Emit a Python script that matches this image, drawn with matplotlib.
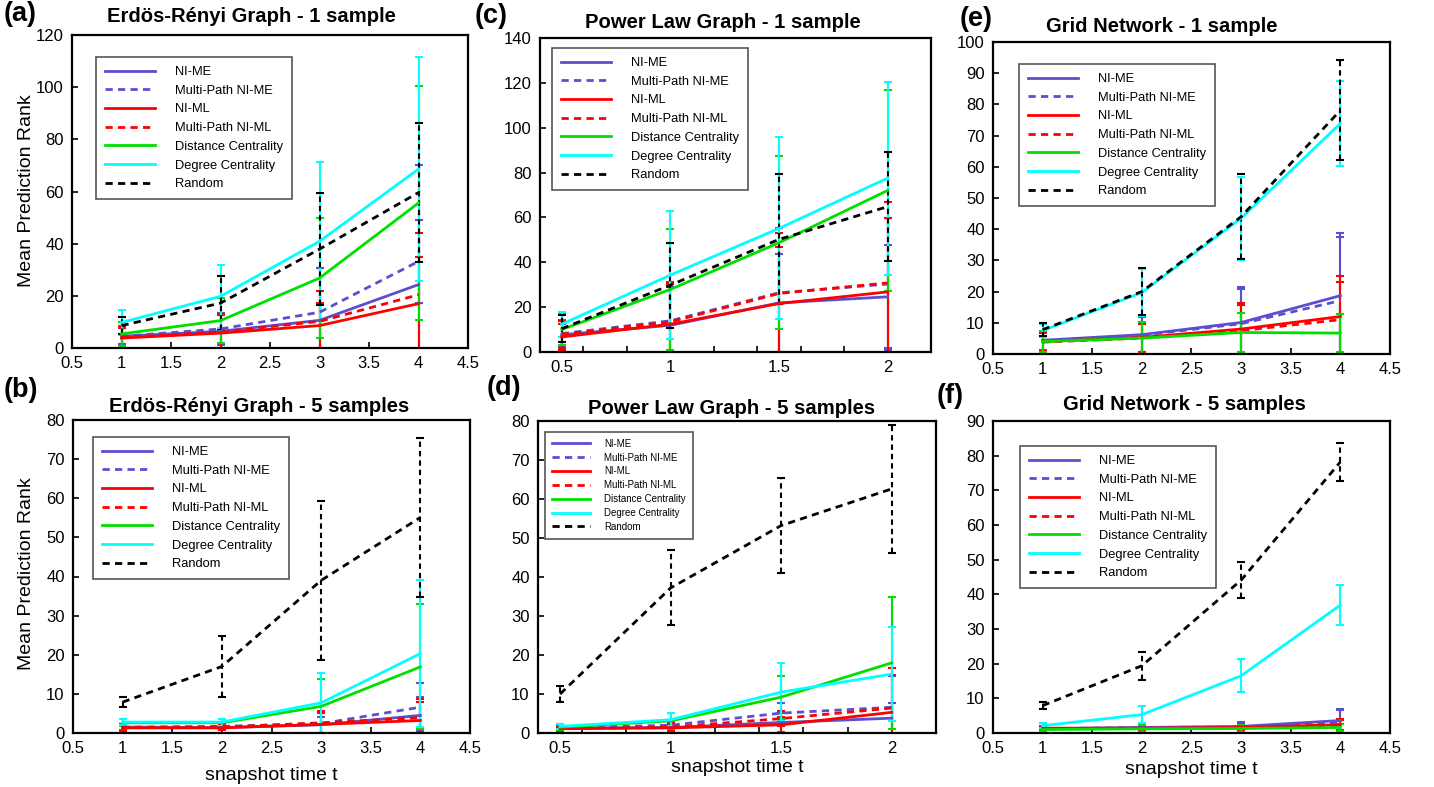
import numpy as np
import matplotlib.pyplot as plt
from matplotlib.ticker import FormatStrFormatter

plt.rcParams['font.family'] = ['Liberation Sans', 'DejaVu Sans']

names = ['NI-ME', 'Multi-Path NI-ME', 'NI-ML', 'Multi-Path NI-ML',
         'Distance Centrality', 'Degree Centrality', 'Random']
colors = ['#5b4fd0', '#5b4fd0', '#ff0000', '#ff0000', '#00e000', '#00ffff', '#000000']
styles = ['-', '--', '-', '--', '-', '-', '--']

t_er = [1, 2, 3, 4]
t_pl = [0.5, 1, 1.5, 2]
t_grid = [1, 2, 3, 4]

# (a) Erdos-Renyi, 1 sample  (rows in order of names)
er1_mean = [[4.5, 6.4, 10.6, 24.3],
            [4.5, 7.3, 13.7, 33.2],
            [3.8, 5.7, 8.6, 17.0],
            [4.1, 6.1, 10.2, 20.4],
            [5.4, 10.5, 26.8, 55.6],
            [9.8, 19.8, 40.9, 68.6],
            [8.6, 17.2, 37.9, 59.6]]
er1_err = [[4, 7, 20, 46],
           [3, 6, 17, 16],
           [4, 7, 8.6, 18],
           [4, 7, 11.5, 23.6],
           [4.5, 8.5, 23, 45],
           [4.9, 12, 30.4, 43],
           [3.1, 10.3, 21.5, 26.6]]

# (b) Erdos-Renyi, 5 samples
er5_mean = [[1.5, 1.4, 2.1, 4.5],
            [1.5, 1.7, 2.4, 6.6],
            [1.3, 1.3, 2.2, 3.2],
            [1.4, 1.5, 2.6, 3.9],
            [2.6, 2.6, 6.8, 16.9],
            [2.8, 2.8, 7.7, 20.3],
            [7.9, 17.0, 39.0, 55.1]]
er5_err = [[0.8, 0.6, 2, 4.7],
           [0.8, 0.6, 3, 6.2],
           [0.8, 0.6, 3, 4.7],
           [0.8, 0.6, 3, 4.9],
           [0.9, 1.0, 7.1, 16],
           [0.8, 0.9, 7.6, 18.7],
           [1.3, 7.7, 20.3, 20.4]]

# (c) power law, 1 sample
pl1_mean = [[7.7, 11.9, 21.9, 24.6],
            [8.2, 13.9, 26.4, 30.3],
            [6.7, 12.4, 21.6, 26.8],
            [7.9, 13.4, 26.1, 30.8],
            [10.0, 27.9, 48.7, 72.0],
            [12.4, 34.3, 55.1, 77.5],
            [10.4, 29.8, 50.2, 64.8]]
pl1_err = [[6, 17, 22, 23],
           [6, 17, 29, 29.4],
           [6, 18, 25, 33],
           [6, 18, 27, 36],
           [7, 27, 38.5, 45],
           [5.5, 28.7, 40.6, 43],
           [6, 19, 29, 24.3]]

# (d) power law, 5 samples
pl5_mean = [[1.3, 1.4, 2.7, 3.8],
            [1.3, 2.0, 5.1, 6.6],
            [1.1, 1.3, 2.1, 5.3],
            [1.1, 1.5, 3.7, 6.4],
            [1.5, 3.1, 9.2, 18.0],
            [1.7, 3.4, 10.5, 15.1],
            [10.0, 37.2, 53.2, 62.6]]
pl5_err = [[0.5, 1, 2.5, 4],
           [0.5, 1, 2.5, 8],
           [0.5, 1, 2, 9.6],
           [0.5, 1, 2, 10.2],
           [0.7, 2, 5.5, 16.9],
           [0.7, 1.7, 7.5, 12],
           [2, 9.6, 12.1, 16.5]]

# (e) grid, 1 sample
gr1_mean = [[4.4, 6.2, 10.1, 18.7],
            [4.0, 6.0, 9.7, 17.1],
            [4.0, 5.3, 8.0, 12.0],
            [3.8, 5.1, 7.5, 11.0],
            [4.0, 5.1, 6.9, 6.7],
            [7.5, 19.7, 43.5, 73.9],
            [7.8, 20.0, 44.0, 78.1]]
gr1_err = [[3, 5.8, 11.3, 20.2],
           [3, 5.8, 11.1, 20.3],
           [3, 4.6, 8.3, 13],
           [3, 4.6, 8.3, 12.2],
           [3.5, 5, 6.4, 6.1],
           [2, 7.5, 13.3, 13.5],
           [2, 7.5, 13.6, 16]]

# (f) grid, 5 samples
gr5_mean = [[1.2, 1.6, 1.9, 3.6],
            [1.2, 1.6, 1.7, 3.1],
            [1.4, 1.4, 1.6, 2.4],
            [1.2, 1.3, 1.4, 2.2],
            [1.0, 1.2, 1.3, 1.6],
            [2.1, 5.3, 16.5, 36.9],
            [7.9, 19.4, 44.1, 78.2]]
gr5_err = [[0.5, 0.8, 1.2, 3.4],
           [0.5, 0.8, 1.2, 3.4],
           [0.5, 0.6, 0.8, 1.5],
           [0.5, 0.6, 0.8, 1.5],
           [0.5, 1, 1, 1],
           [0.8, 2.4, 4.8, 5.8],
           [1, 4.1, 5.3, 5.5]]

W, H = 1434, 787
fig = plt.figure(figsize=(W / 100, H / 100), dpi=100)


def px_rect(l, t, r, b):
    return [l / W, 1 - b / H, (r - l) / W, (b - t) / H]


def draw(rect, x, means, errs, ylim, ystep, title, title_xy, letter, letter_xy,
         leg_xy, leg_size, leg_pitch, small_x=False):
    ax = fig.add_axes(px_rect(*rect))
    handles = []
    for m, e, c, ls, nm in zip(means, errs, colors, styles, names):
        eb = ax.errorbar(x, m, yerr=e, color=c, ls=ls, lw=2.0, elinewidth=1.5,
                         capsize=3, capthick=1.5, label=nm)
        if ls == '--':
            eb[0].set_dashes((2.6, 1.9))
            eb[2][0].set_linestyle((0, (2.6, 1.9)))
        handles.append(eb[0])
    ax.set_ylim(0, ylim)
    ax.set_yticks(np.arange(0, ylim + 0.1, ystep))
    if small_x:
        ax.set_xlim(0.4, 2.2)
        ax.set_xticks([0.5, 1, 1.5, 2])
        ax.set_xticks(np.arange(0.6, 2.21, 0.2), minor=True)
        ax.tick_params(axis='x', which='major', length=0)
        ax.tick_params(axis='x', which='minor', direction='in', length=4, width=1.2)
    else:
        ax.set_xlim(0.5, 4.5)
        ax.set_xticks(np.arange(0.5, 4.51, 0.5))
    ax.xaxis.set_major_formatter(FormatStrFormatter('%g'))
    ax.tick_params(which='major', direction='in', length=4, width=1.2,
                   labelsize=12, pad=6)
    for s in ax.spines.values():
        s.set_linewidth(1.6)
    fig.text(title_xy[0] / W, 1 - title_xy[1] / H, title, ha='center',
             va='center', fontsize=14.6, fontweight='bold')
    fig.text(letter_xy[0] / W, 1 - letter_xy[1] / H, letter, ha='left', va='center',
             fontsize=19.5, fontweight='bold')
    fs_px = leg_size * 100 / 72
    leg = ax.legend(handles, names, loc='upper left',
                    bbox_to_anchor=(leg_xy[0] / W, 1 - leg_xy[1] / H),
                    bbox_transform=fig.transFigure, fontsize=leg_size,
                    frameon=True, fancybox=False, framealpha=1,
                    edgecolor='#555555', borderaxespad=0, borderpad=0.7,
                    handlelength=3.9, handletextpad=1.5,
                    labelspacing=(leg_pitch - fs_px * 1.15) / fs_px)
    leg.get_frame().set_linewidth(1.2)
    return ax


draw((72, 35, 468, 348), t_er, er1_mean, er1_err, 120, 20,
     'Erdös-Rényi Graph - 1 sample', (251, 17), '(a)', (4, 14), (96, 57), 9.3, 21.5)
draw((73, 420, 470, 733), t_er, er5_mean, er5_err, 80, 10,
     'Erdös-Rényi Graph - 5 samples', (259, 406), '(b)', (4, 390), (93, 437), 9.3, 21.5)
draw((540, 38, 931, 352), t_pl, pl1_mean, pl1_err, 140, 20,
     'Power Law Graph - 1 sample', (723, 23), '(c)', (475, 16), (552, 48), 9.3, 21.5,
     small_x=True)
draw((538, 421, 936, 733), t_pl, pl5_mean, pl5_err, 80, 10,
     'Power Law Graph - 5 samples', (732, 408), '(d)', (487, 388), (545, 432), 7, 15,
     small_x=True)
draw((993, 42, 1390, 354), t_grid, gr1_mean, gr1_err, 100, 10,
     'Grid Network - 1 sample', (1162, 26), '(e)', (960, 19), (1019, 64), 9.3, 21.5)
draw((993, 421, 1390, 733), t_grid, gr5_mean, gr5_err, 90, 10,
     'Grid Network - 5 samples', (1184, 405), '(f)', (937, 396), (1020, 446), 9.3, 21.5)

fig.text(27 / W, 1 - 191 / H, 'Mean Prediction Rank', rotation=90, ha='center',
         va='center', fontsize=14)
fig.text(27 / W, 1 - 574 / H, 'Mean Prediction Rank', rotation=90, ha='center',
         va='center', fontsize=14)
fig.text(271 / W, 1 - 775 / H, 'snapshot time t', ha='center', va='center', fontsize=14)
fig.text(737 / W, 1 - 768 / H, 'snapshot time t', ha='center', va='center', fontsize=14)
fig.text(1191 / W, 1 - 770 / H, 'snapshot time t', ha='center', va='center', fontsize=14)

fig.savefig('out.png', dpi=100)
